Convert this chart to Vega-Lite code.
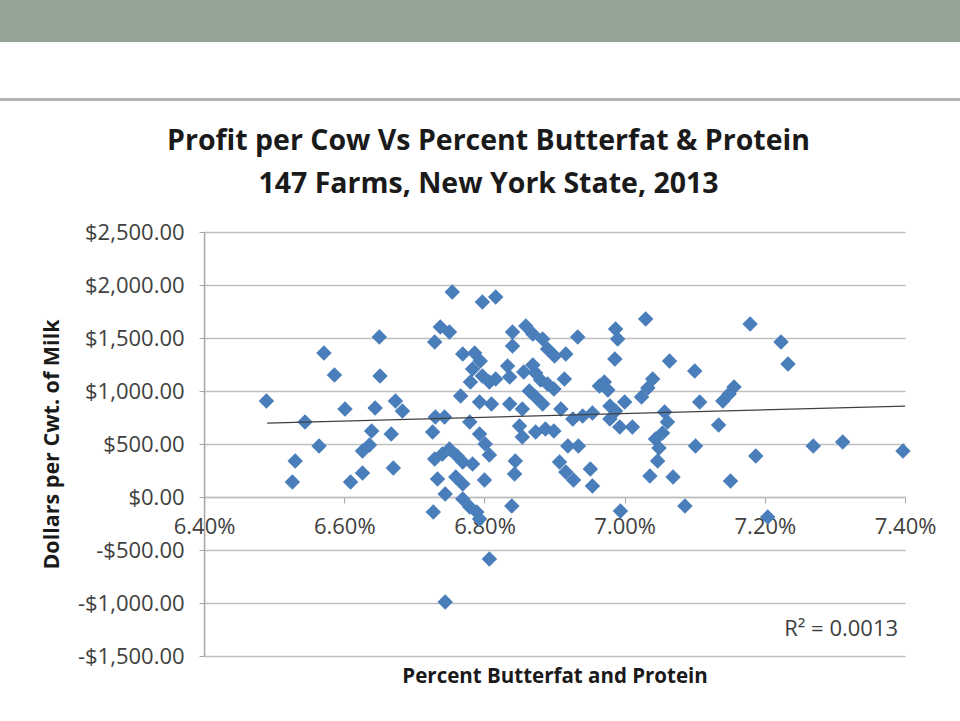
{
  "$schema": "https://vega.github.io/schema/vega-lite/v6.json",
  "background": "white",
  "padding": 0,
  "spacing": 0,
  "center": true,
  "config": {
    "view": {"stroke": null},
    "font": "Open Sans"
  },
  "vconcat": [
    {"width": 1140, "height": 42, "data": {"values": []}, "mark": "point", "view": {"fill": "#94A396", "stroke": null}},
    {"width": 1140, "height": 56, "data": {"values": []}, "mark": "point"},
    {"width": 1140, "height": 3, "data": {"values": []}, "mark": "point", "view": {"fill": "#B4B4B4", "stroke": null}},
    {"width": 1140, "height": 25, "data": {"values": []}, "mark": "point"},
    {
      "width": 701,
      "height": 424,
      "title": {
        "text": ["Profit per Cow Vs Percent Butterfat & Protein", "147 Farms, New York State, 2013"],
        "font": "Open Sans", "fontSize": 28.5, "fontWeight": "bold", "color": "#1A1A1A",
        "lineHeight": 43, "anchor": "middle", "frame": "bounds", "baseline": "alphabetic", "offset": 0
      },
      "data": {"values": [
        {"pct": 6.489, "profit": 906}, {"pct": 6.526, "profit": 142}, {"pct": 6.530, "profit": 340}, {"pct": 6.544, "profit": 708},
        {"pct": 6.564, "profit": 481}, {"pct": 6.571, "profit": 1358}, {"pct": 6.586, "profit": 1151}, {"pct": 6.601, "profit": 830},
        {"pct": 6.609, "profit": 142}, {"pct": 6.626, "profit": 226}, {"pct": 6.626, "profit": 434}, {"pct": 6.636, "profit": 491},
        {"pct": 6.639, "profit": 623}, {"pct": 6.644, "profit": 840}, {"pct": 6.650, "profit": 1509}, {"pct": 6.651, "profit": 1141},
        {"pct": 6.667, "profit": 594}, {"pct": 6.670, "profit": 274}, {"pct": 6.673, "profit": 906}, {"pct": 6.683, "profit": 811},
        {"pct": 6.726, "profit": 613}, {"pct": 6.730, "profit": 755}, {"pct": 6.743, "profit": 755}, {"pct": 6.729, "profit": 358},
        {"pct": 6.740, "profit": 406}, {"pct": 6.750, "profit": 453}, {"pct": 6.761, "profit": 387}, {"pct": 6.769, "profit": 330},
        {"pct": 6.783, "profit": 311}, {"pct": 6.733, "profit": 170}, {"pct": 6.759, "profit": 189}, {"pct": 6.769, "profit": 123},
        {"pct": 6.744, "profit": 28}, {"pct": 6.769, "profit": -19}, {"pct": 6.779, "profit": -94}, {"pct": 6.789, "profit": -142},
        {"pct": 6.727, "profit": -142}, {"pct": 6.800, "profit": 160}, {"pct": 6.754, "profit": 1934}, {"pct": 6.797, "profit": 1840},
        {"pct": 6.816, "profit": 1887}, {"pct": 6.737, "profit": 1604}, {"pct": 6.750, "profit": 1557}, {"pct": 6.729, "profit": 1462},
        {"pct": 6.769, "profit": 1349}, {"pct": 6.786, "profit": 1358}, {"pct": 6.794, "profit": 1283}, {"pct": 6.783, "profit": 1208},
        {"pct": 6.797, "profit": 1141}, {"pct": 6.780, "profit": 1085}, {"pct": 6.807, "profit": 1085}, {"pct": 6.816, "profit": 1113},
        {"pct": 6.766, "profit": 953}, {"pct": 6.793, "profit": 896}, {"pct": 6.810, "profit": 877}, {"pct": 6.779, "profit": 708},
        {"pct": 6.793, "profit": 594}, {"pct": 6.801, "profit": 500}, {"pct": 6.807, "profit": 396}, {"pct": 6.807, "profit": -585},
        {"pct": 6.744, "profit": -991}, {"pct": 6.836, "profit": 877}, {"pct": 6.840, "profit": 1557}, {"pct": 6.859, "profit": 1613},
        {"pct": 6.869, "profit": 1538}, {"pct": 6.840, "profit": 1425}, {"pct": 6.883, "profit": 1491}, {"pct": 6.890, "profit": 1396},
        {"pct": 6.900, "profit": 1330}, {"pct": 6.916, "profit": 1349}, {"pct": 6.933, "profit": 1509}, {"pct": 6.833, "profit": 1236},
        {"pct": 6.836, "profit": 1132}, {"pct": 6.869, "profit": 1245}, {"pct": 6.873, "profit": 1170}, {"pct": 6.880, "profit": 1104},
        {"pct": 6.890, "profit": 1066}, {"pct": 6.899, "profit": 1019}, {"pct": 6.914, "profit": 1113}, {"pct": 6.864, "profit": 1000},
        {"pct": 6.873, "profit": 943}, {"pct": 6.883, "profit": 877}, {"pct": 6.854, "profit": 830}, {"pct": 6.850, "profit": 670},
        {"pct": 6.854, "profit": 566}, {"pct": 6.873, "profit": 613}, {"pct": 6.887, "profit": 642}, {"pct": 6.899, "profit": 623},
        {"pct": 6.909, "profit": 830}, {"pct": 6.926, "profit": 736}, {"pct": 6.940, "profit": 764}, {"pct": 6.954, "profit": 792},
        {"pct": 6.919, "profit": 481}, {"pct": 6.934, "profit": 481}, {"pct": 6.907, "profit": 330}, {"pct": 6.916, "profit": 236},
        {"pct": 6.927, "profit": 160}, {"pct": 6.951, "profit": 264}, {"pct": 6.954, "profit": 104}, {"pct": 6.844, "profit": 340},
        {"pct": 6.843, "profit": 217}, {"pct": 6.839, "profit": -85}, {"pct": 6.964, "profit": 1047}, {"pct": 6.987, "profit": 1585},
        {"pct": 6.990, "profit": 1491}, {"pct": 6.986, "profit": 1302}, {"pct": 7.030, "profit": 1679}, {"pct": 6.971, "profit": 1085},
        {"pct": 6.976, "profit": 1009}, {"pct": 6.979, "profit": 858}, {"pct": 6.987, "profit": 811}, {"pct": 7.000, "profit": 896},
        {"pct": 6.979, "profit": 736}, {"pct": 6.993, "profit": 660}, {"pct": 7.011, "profit": 660}, {"pct": 6.994, "profit": -132},
        {"pct": 7.040, "profit": 1113}, {"pct": 7.033, "profit": 1028}, {"pct": 7.024, "profit": 943}, {"pct": 7.057, "profit": 802},
        {"pct": 7.061, "profit": 708}, {"pct": 7.054, "profit": 604}, {"pct": 7.044, "profit": 547}, {"pct": 7.049, "profit": 462},
        {"pct": 7.047, "profit": 340}, {"pct": 7.036, "profit": 198}, {"pct": 7.069, "profit": 189}, {"pct": 7.064, "profit": 1283},
        {"pct": 7.086, "profit": -85}, {"pct": 7.100, "profit": 1189}, {"pct": 7.107, "profit": 896}, {"pct": 7.101, "profit": 481},
        {"pct": 7.134, "profit": 679}, {"pct": 7.140, "profit": 906}, {"pct": 7.149, "profit": 972}, {"pct": 7.156, "profit": 1038},
        {"pct": 7.151, "profit": 151}, {"pct": 7.179, "profit": 1632}, {"pct": 7.187, "profit": 387}, {"pct": 7.204, "profit": -189},
        {"pct": 7.223, "profit": 1462}, {"pct": 7.233, "profit": 1255}, {"pct": 7.269, "profit": 481}, {"pct": 7.311, "profit": 519},
        {"pct": 7.397, "profit": 434}, {"pct": 6.793, "profit": -208}, {"pct": 6.856, "profit": 1179}
      ]},
      "layer": [
        {
          "mark": {"type": "point", "shape": "diamond", "filled": true, "size": 240, "color": "#4A7EBB", "opacity": 1},
          "encoding": {
            "x": {
              "field": "pct", "type": "quantitative",
              "scale": {"domain": [6.4, 7.4], "nice": false, "zero": false},
              "axis": {
                "values": [6.4, 6.6, 6.8, 7.0, 7.2, 7.4],
                "labelExpr": "format(datum.value, '.2f') + '%'",
                "title": "Percent Butterfat and Protein",
                "offset": -159, "grid": false,
                "domainColor": "#BFBFBF", "domainWidth": 1.5,
                "tickColor": "#A6A6A6", "tickSize": 6,
                "labelPadding": 13, "labelFlush": false, "labelOverlap": false, "labelBound": false,
                "labelFont": "Open Sans", "labelFontSize": 22, "labelColor": "#404040",
                "titleFont": "Open Sans", "titleFontSize": 20.5, "titleFontWeight": "bold", "titleColor": "#1A1A1A",
                "titleY": 185, "titleBaseline": "alphabetic", "titlePadding": 0
              }
            },
            "y": {
              "field": "profit", "type": "quantitative",
              "scale": {"domain": [-1500, 2500], "nice": false, "zero": false},
              "axis": {
                "values": [-1500, -1000, -500, 0, 500, 1000, 1500, 2000, 2500],
                "labelExpr": "(datum.value < 0 ? '-' : '') + format(abs(datum.value), '$,.2f')",
                "title": "Dollars per Cwt. of Milk",
                "grid": true, "gridColor": "#BFBFBF", "gridWidth": 1.5,
                "domainColor": "#A6A6A6", "domainWidth": 1.5,
                "tickColor": "#A6A6A6", "tickSize": 5, "labelPadding": 15,
                "labelFont": "Open Sans", "labelFontSize": 22, "labelColor": "#404040",
                "titleFont": "Open Sans", "titleFontSize": 21.5, "titleFontWeight": "bold", "titleColor": "#1A1A1A",
                "titleX": -152, "titleY": 212, "titleAngle": -90, "titleBaseline": "middle", "titleAlign": "center"
              }
            }
          }
        },
        {
          "transform": [{"regression": "profit", "on": "pct", "extent": [6.49, 7.4]}],
          "mark": {"type": "line", "color": "#404040", "strokeWidth": 1.2},
          "encoding": {
            "x": {"field": "pct", "type": "quantitative"},
            "y": {"field": "profit", "type": "quantitative"}
          }
        },
        {
          "data": {"values": [{"label": "R² = 0.0013", "pct": 7.39, "profit": -1245}]},
          "mark": {"type": "text", "align": "right", "baseline": "middle", "font": "Open Sans", "fontSize": 22, "color": "#404040"},
          "encoding": {
            "x": {"field": "pct", "type": "quantitative"},
            "y": {"field": "profit", "type": "quantitative"},
            "text": {"field": "label"}
          }
        }
      ]
    }
  ]
}
